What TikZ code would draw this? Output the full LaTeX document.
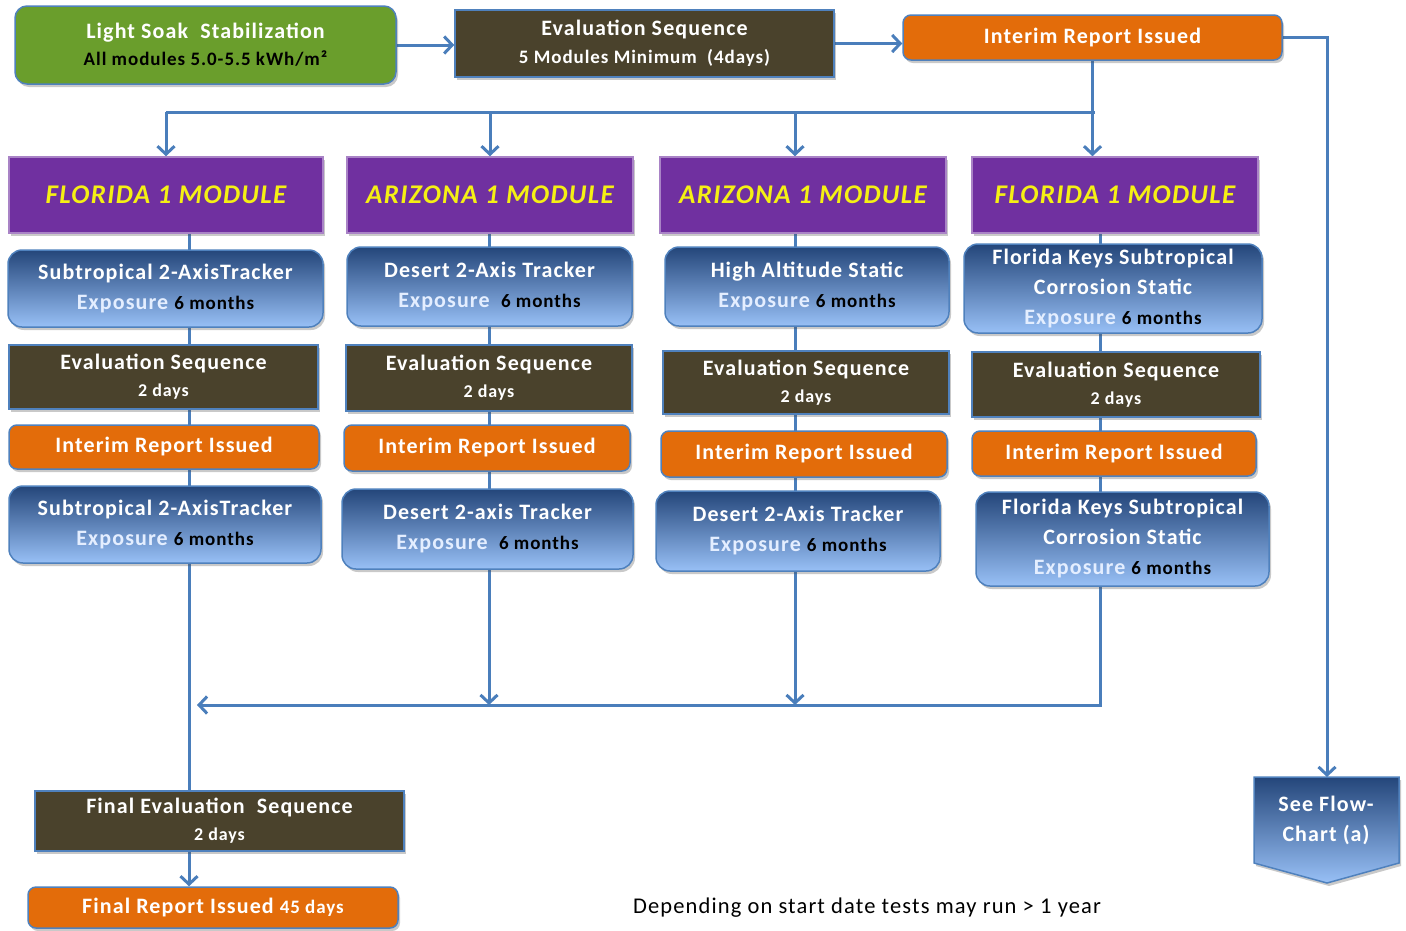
\documentclass[tikz,border=0pt]{standalone}
\usepackage{fontspec}
\setmainfont{Carlito}[LetterSpace=5]
\usetikzlibrary{arrows.meta,shadows,calc}
\definecolor{lsgreen}{RGB}{106,158,44}
\definecolor{olivebox}{RGB}{74,66,44}
\definecolor{orng}{RGB}{227,108,10}
\definecolor{purp}{RGB}{112,48,160}
\definecolor{yel}{RGB}{245,240,20}
\definecolor{bord}{RGB}{79,129,189}
\definecolor{connc}{RGB}{74,126,187}
\definecolor{bdark}{RGB}{36,70,122}
\definecolor{blight}{RGB}{152,192,246}
\definecolor{expo}{RGB}{228,238,255}
\pgfdeclarelayer{bg}\pgfsetlayers{bg,main}
\newcommand\smtxt{\fontsize{19}{30}\selectfont}
\newcommand\evsm{\fontsize{18}{27}\selectfont}
\tikzset{
  box/.style={line width=1.5pt, draw=bord, align=center, text=white, inner sep=0pt,
    font=\bfseries\fontsize{22}{30}\selectfont,
    drop shadow={shadow xshift=2pt, shadow yshift=-3pt, opacity=0.3, fill=black!70}},
  lsbox/.style={box, fill=lsgreen, rounded corners=12pt},
  evbox/.style={box, fill=olivebox, font=\bfseries\fontsize{22}{27}\selectfont},
  irbox/.style={box, fill=orng, rounded corners=8pt},
  hdbox/.style={box, fill=purp, text=yel, draw=purp!60!white, font=\bfseries\itshape\fontsize{27}{30}\selectfont},
  blbox/.style={box, top color=bdark, bottom color=blight, rounded corners=14pt},
  conn/.style={draw=connc, line width=3pt},
  arr/.style={conn, -{Straight Barb[length=8pt,width=17pt]}},
}
\newcommand\expo[1]{\textcolor{expo}{Exposure}\ {\smtxt\textcolor{black}{#1}}}
\begin{document}
\begin{tikzpicture}[x=1pt,y=-1pt]
\useasboundingbox (0,0) rectangle (1406,930);
% top row
\node[lsbox, minimum width=381pt, minimum height=78pt, font=\bfseries\fontsize{22}{27}\selectfont] (ls) at (205.5,45)
  {Light Soak\ \ Stabilization\\{\color{black}\fontsize{19}{27}\selectfont All modules 5.0-5.5 kWh/m²}};
\node[evbox, minimum width=379pt, minimum height=67pt, font=\bfseries\fontsize{22}{28}\selectfont] (et) at (644.5,43.5)
  {Evaluation Sequence\\{\fontsize{19}{28}\selectfont 5 Modules Minimum\ \ (4days)}};
\node[irbox, minimum width=379pt, minimum height=45pt] (it) at (1092.5,37.5) {Interim Report Issued};
% headers
\node[hdbox, minimum width=314pt, minimum height=76pt] (h1) at (166,195) {FLORIDA 1 MODULE};
\node[hdbox, minimum width=286pt, minimum height=76pt] (h2) at (490,195) {ARIZONA 1 MODULE};
\node[hdbox, minimum width=286pt, minimum height=76pt] (h3) at (803,195) {ARIZONA 1 MODULE};
\node[hdbox, minimum width=286pt, minimum height=76pt] (h4) at (1115,195) {FLORIDA 1 MODULE};
% column 1
\node[blbox, minimum width=315pt, minimum height=77pt] (b11) at (165.5,288.5) {Subtropical 2-AxisTracker\\\expo{6 months}};
\node[evbox, minimum width=309pt, minimum height=64pt] (e1) at (163.5,377) {Evaluation Sequence\\{\evsm 2 days}};
\node[irbox, minimum width=310pt, minimum height=44pt] (i1) at (164,447) {Interim Report Issued};
\node[blbox, minimum width=312pt, minimum height=77pt] (b12) at (165,524.5) {Subtropical 2-AxisTracker\\\expo{6 months}};
% column 2
\node[blbox, minimum width=285pt, minimum height=79pt] (b21) at (489.5,286.5) {Desert 2-Axis Tracker\\\expo{\ 6 months}};
\node[evbox, minimum width=286pt, minimum height=66pt] (e2) at (489,378) {Evaluation Sequence\\{\evsm 2 days}};
\node[irbox, minimum width=286pt, minimum height=46pt] (i2) at (487,448) {Interim Report Issued};
\node[blbox, minimum width=291pt, minimum height=80pt] (b22) at (487.5,529) {Desert 2-axis Tracker\\\expo{\ 6 months}};
% column 3
\node[blbox, minimum width=284pt, minimum height=79pt] (b31) at (807,286.5) {High Altitude Static\\\expo{6 months}};
\node[evbox, minimum width=286pt, minimum height=63pt] (e3) at (806,382.5) {Evaluation Sequence\\{\evsm 2 days}};
\node[irbox, minimum width=286pt, minimum height=46pt] (i3) at (804,454) {Interim Report Issued};
\node[blbox, minimum width=284pt, minimum height=80pt] (b32) at (798,531) {Desert 2-Axis Tracker\\\expo{6 months}};
% column 4
\node[blbox, minimum width=298pt, minimum height=89pt] (b41) at (1113,288.5) {Florida Keys Subtropical\\Corrosion Static\\\expo{6 months}};
\node[evbox, minimum width=288pt, minimum height=65pt] (e4) at (1116,384.5) {Evaluation Sequence\\{\evsm 2 days}};
\node[irbox, minimum width=284pt, minimum height=45pt] (i4) at (1114,453.5) {Interim Report Issued};
\node[blbox, minimum width=293pt, minimum height=94pt] (b42) at (1122.5,539) {Florida Keys Subtropical\\Corrosion Static\\\expo{6 months}};
% final
\node[evbox, minimum width=369pt, minimum height=60pt] (fe) at (219.5,821) {Final Evaluation\ \ Sequence\\{\evsm 2 days}};
\node[irbox, minimum width=370pt, minimum height=41pt] (fr) at (213,907.5) {Final Report Issued\ {\smtxt 45 days}};
% see flow chart
\path[draw=bord, line width=1.5pt, top color=bdark, bottom color=blight,
  drop shadow={shadow xshift=2pt, shadow yshift=-3pt, opacity=0.3, fill=black!70}]
  (1254,777) -- (1399,777) -- (1399,863) -- (1327,883) -- (1254,863) -- cycle;
\node[align=center, text=white, font=\bfseries\fontsize{22}{30}\selectfont] (see) at (1326,820) {See Flow-\\Chart (a)};
\coordinate (seetop) at (1327,777);
% footer
\node[font=\fontsize{22.5}{24}\selectfont, text=black] (foot) at (867,908) {Depending on start date tests may run > 1 year};
% coordinates for connectors
\coordinate (bus) at (1095,112);
\coordinate (c1) at (189,0);
\coordinate (c2) at (489,0);
\coordinate (c3) at (795,0);
\coordinate (c4) at (1100,0);
\coordinate (ret) at (197,705);
\begin{pgfonlayer}{bg}
\draw[arr] (ls.east) -- (ls.east -| et.west);
\draw[arr] (et.east) -- (et.east -| it.west);
\draw[arr] (it.east) -| (seetop);
\draw[arr] (it.south) -- (it.south |- h4.north);
\draw[conn] (bus) -- (bus -| h1.north);
\draw[arr] (bus -| h1.north) -- (h1.north);
\draw[arr] (bus -| h2.north) -- (h2.north);
\draw[arr] (bus -| c3) -- (c3 |- h3.north);
\draw[conn] (c1 |- h1.south) -- (c1 |- fe.north);
\draw[arr] (c1 |- fe.south) -- (c1 |- fr.north);
\draw[conn] (c2 |- h2.south) -- (c2 |- b22.south);
\draw[arr] (c2 |- b22.south) -- (c2 |- ret);
\draw[conn] (c3 |- h3.south) -- (c3 |- b32.south);
\draw[arr] (c3 |- b32.south) -- (c3 |- ret);
\draw[conn] (c4 |- h4.south) -- (c4 |- b42.south);
\draw[arr] (c4 |- b42.south) |- (ret);
\end{pgfonlayer}
\end{tikzpicture}
\end{document}
